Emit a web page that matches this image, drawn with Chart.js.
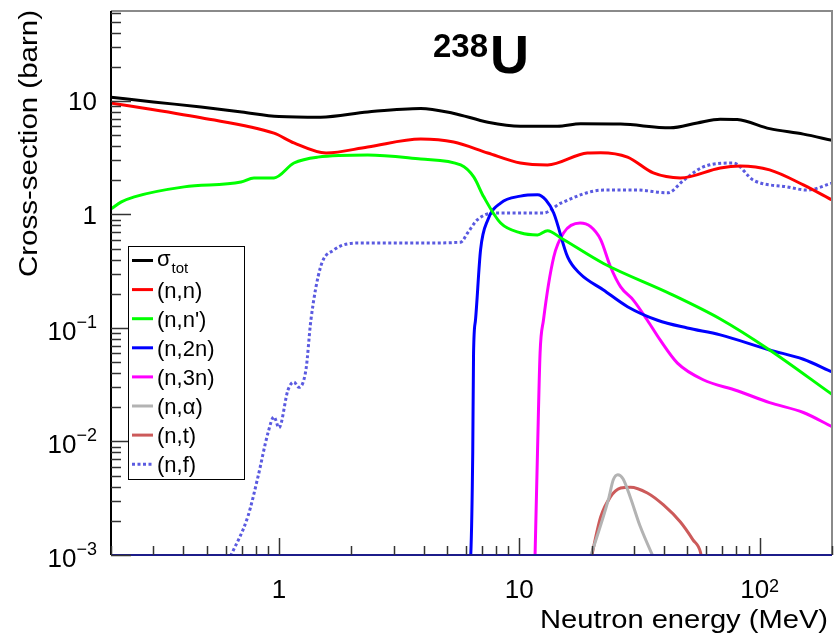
<!DOCTYPE html>
<html>
<head>
<meta charset="utf-8">
<script src="https://cdn.jsdelivr.net/npm/chart.js@4.4.0/dist/chart.umd.min.js"></script>
<style>
  html, body { margin: 0; padding: 0; background: #fff; }
</style>
</head>
<body>
<canvas id="xsChart" width="837" height="642"></canvas>
<script>
// reaction channels, legend order
const reactionLabels = ["σtot", "(n,n)", "(n,n')", "(n,2n)", "(n,3n)", "(n,α)", "(n,t)", "(n,f)"];

// energies (MeV) and cross-sections (barn)
const eTot = [0.2, 0.3, 0.474, 0.7, 1.0, 1.49, 2.34, 3.89, 5.3, 7.4, 10.1, 14.4, 18, 26.4, 42.5, 55, 68.6, 80.7, 110, 152, 200];
const sTot = [10.8, 9.8, 8.85, 8.0, 7.3, 7.2, 8.0, 8.6, 7.8, 6.5, 6.0, 6.0, 6.3, 6.25, 5.8, 6.4, 6.9, 6.85, 5.7, 5.1, 4.5];

const eEl = [0.2, 0.474, 0.953, 1.154, 1.57, 2.34, 3.89, 5.33, 7.39, 10.1, 13.1, 19.2, 21.8, 28.2, 36.1, 46.8, 68.6, 83, 110, 152, 200];
const sEl = [9.6, 7.1, 5.2, 4.27, 3.48, 3.93, 4.62, 4.35, 3.48, 2.84, 2.73, 3.48, 3.5, 3.2, 2.32, 2.1, 2.57, 2.67, 2.47, 1.82, 1.34];

const eInel = [0.2, 0.221, 0.25, 0.403, 0.695, 0.787, 0.953, 1.154, 1.45, 2.34, 3.89, 5.7, 6.46, 7.11, 8.36, 10.1, 11.9, 13.1, 14.9, 22.4, 42.5, 68.6, 110, 200];
const sInel = [1.12, 1.29, 1.43, 1.75, 1.93, 2.1, 2.1, 2.84, 3.2, 3.34, 3.08, 2.73, 2.14, 1.43, 0.84, 0.69, 0.66, 0.72, 0.62, 0.37, 0.2, 0.12, 0.064, 0.026];

const eN2n = [6.2, 6.28, 6.4, 6.45, 6.57, 6.9, 7.4, 8.36, 10.1, 11.9, 12.9, 13.9, 15.9, 17.9, 22.4, 28.2, 37.6, 50, 68.6, 110, 152, 200];
const sN2n = [0.0008, 0.001, 0.0079, 0.06, 0.117, 0.49, 0.9, 1.26, 1.45, 1.49, 1.34, 1.03, 0.42, 0.30, 0.216, 0.154, 0.117, 0.1, 0.087, 0.064, 0.053, 0.041];

const eN3n = [11.6, 11.9, 12.2, 12.6, 13.9, 15.3, 17.9, 19.8, 21.8, 23.9, 26.4, 29.8, 34.1, 38.6, 45.5, 58.2, 80.7, 110, 152, 200];
const sN3n = [0.0008, 0.0079, 0.06, 0.117, 0.42, 0.69, 0.84, 0.78, 0.6, 0.35, 0.23, 0.176, 0.117, 0.078, 0.049, 0.035, 0.028, 0.022, 0.018, 0.0135];

const eAlpha = [19.2, 23.5, 24.6, 25.7, 27.0, 29.0, 31.8, 37.5];
const sAlpha = [0.0008, 0.0031, 0.0046, 0.0051, 0.0047, 0.0032, 0.0018, 0.0008];

const eTrit = [19.6, 21.8, 23.9, 26.4, 29.0, 34.1, 39.8, 46.8, 52.8, 56.7, 58];
const sTrit = [0.0008, 0.00216, 0.00324, 0.00389, 0.00396, 0.00352, 0.00276, 0.00195, 0.00136, 0.00106, 0.0008];

const eFis = [0.6, 0.632, 0.743, 0.818, 0.9, 0.953, 1.0, 1.09, 1.154, 1.21, 1.295, 1.358, 1.49, 1.69, 2.19, 3.89, 5.7, 6.1, 6.7, 7.8, 11.5, 12.6, 14.9, 22.4, 30.9, 41.4, 48.3, 58.2, 77.7, 94.4, 130, 158, 200];
const sFis = [0.0008, 0.001, 0.0022, 0.0049, 0.0119, 0.0165, 0.0132, 0.0284, 0.0334, 0.030, 0.043, 0.118, 0.345, 0.486, 0.56, 0.56, 0.57, 0.69, 0.90, 1.03, 1.03, 1.03, 1.26, 1.64, 1.64, 1.55, 2.0, 2.62, 2.84, 2.0, 1.75, 1.64, 1.89];

const lineColors = ["#000000", "#ff0000", "#00ff00", "#0000ff", "#ff00ff", "#b3b3b3", "#cc5a5a", "#5a5ae0"];

const energies = [eTot, eEl, eInel, eN2n, eN3n, eAlpha, eTrit, eFis];
const sigmas = [sTot, sEl, sInel, sN2n, sN3n, sAlpha, sTrit, sFis];

const FONT = '"Liberation Sans", Arial, Helvetica, sans-serif';

function toPoints(e, s) {
    return e.map((v, i) => ({ x: v, y: s[i] }));
}

const datasets = reactionLabels.map((lab, i) => ({
    label: lab,
    data: toPoints(energies[i], sigmas[i]),
    borderColor: lineColors[i],
    borderWidth: 3,
    borderDash: i === 7 ? [3, 2.5] : [],
    pointRadius: 0,
    fill: false,
    cubicInterpolationMode: "monotone",
}));

// draws "10" with a superscript exponent, or a plain number
function drawPow(ctx, base, exp, x, y, align, baseSize, expSize, raise) {
    ctx.font = baseSize + "px " + FONT;
    const wb = ctx.measureText(base).width;
    ctx.font = expSize + "px " + FONT;
    const we = exp ? ctx.measureText(exp).width : 0;
    const total = wb + we;
    let x0 = x;
    if (align === "right") x0 = x - total;
    if (align === "center") x0 = x - total / 2;
    ctx.textAlign = "left";
    ctx.textBaseline = "alphabetic";
    ctx.font = baseSize + "px " + FONT;
    ctx.fillText(base, x0, y);
    if (exp) {
        ctx.font = expSize + "px " + FONT;
        ctx.fillText(exp, x0 + wb, y - raise);
    }
}

const rootStyle = {
    id: "rootStyle",
    afterDraw(chart) {
        const { ctx, chartArea: a, scales: { x, y } } = chart;
        ctx.save();
        ctx.fillStyle = "#000";

        // frame
        ctx.lineWidth = 2;
        ctx.strokeStyle = "#8a8a8a";
        ctx.beginPath();
        ctx.moveTo(a.left, a.top);
        ctx.lineTo(a.right, a.top);
        ctx.lineTo(a.right, a.bottom);
        ctx.stroke();
        ctx.strokeStyle = "#000";
        ctx.beginPath();
        ctx.moveTo(a.left, a.top);
        ctx.lineTo(a.left, a.bottom);
        ctx.stroke();
        ctx.strokeStyle = "#1c1c8a";
        ctx.beginPath();
        ctx.moveTo(a.left, a.bottom);
        ctx.lineTo(a.right, a.bottom);
        ctx.stroke();

        // y ticks
        ctx.strokeStyle = "#333";
        ctx.lineWidth = 1.5;
        for (let d = -3; d <= 1; d++) {
            for (let m = 1; m <= 9; m++) {
                const v = m * Math.pow(10, d);
                if (v > y.max) break;
                const py = Math.round(y.getPixelForValue(v)) + 0.5;
                const len = m === 1 ? 20 : 10;
                ctx.beginPath();
                ctx.moveTo(a.left, py);
                ctx.lineTo(a.left + len, py);
                ctx.stroke();
            }
        }
        // x ticks
        for (let d = -1; d <= 2; d++) {
            for (let m = 1; m <= 9; m++) {
                const v = m * Math.pow(10, d);
                if (v < x.min * 0.999 || v > x.max * 1.001) continue;
                const px = Math.round(x.getPixelForValue(v)) + 0.5;
                const len = m === 1 ? 17 : 9;
                ctx.beginPath();
                ctx.moveTo(px, a.bottom);
                ctx.lineTo(px, a.bottom - len);
                ctx.stroke();
            }
        }

        // y tick labels
        const yLabels = [[0.001, "10", "\u22123"], [0.01, "10", "\u22122"], [0.1, "10", "\u22121"], [1, "1", ""], [10, "10", ""]];
        yLabels.forEach(([v, b, e]) => {
            const py = y.getPixelForValue(v);
            if (e) drawPow(ctx, b, e, 97, py + 12, "right", 26, 18, 12);
            else drawPow(ctx, b, "", 97, py + 9.5, "right", 26, 18, 0);
        });
        // x tick labels
        const xLabels = [[1, "1", ""], [10, "10", ""], [100, "10", "2"]];
        xLabels.forEach(([v, b, e]) => {
            const px = x.getPixelForValue(v);
            drawPow(ctx, b, e, px, 598, "center", 26, 18, 6);
        });

        // axis titles (ROOT puts them at the far end of the axis)
        ctx.font = "26px " + FONT;
        ctx.textBaseline = "alphabetic";
        let t = "Neutron energy (MeV)";
        let w = ctx.measureText(t).width;
        ctx.save();
        ctx.translate(828, 628);
        ctx.scale(288 / w, 1);
        ctx.textAlign = "right";
        ctx.fillText(t, 0, 0);
        ctx.restore();

        t = "Cross-section (barn)";
        w = ctx.measureText(t).width;
        ctx.save();
        ctx.translate(37, 10);
        ctx.rotate(-Math.PI / 2);
        ctx.scale(267 / w, 1);
        ctx.textAlign = "right";
        ctx.fillText(t, 0, 0);
        ctx.restore();

        // nucleus label
        ctx.textAlign = "left";
        ctx.font = "bold 33px " + FONT;
        ctx.fillText("238", 433, 57);
        ctx.font = "bold 54px " + FONT;
        ctx.fillText("U", 490, 73);

        // legend
        const lx = 128, ly = 246, lw = 116, lh = 233;
        ctx.fillStyle = "#fff";
        ctx.fillRect(lx, ly, lw, lh);
        ctx.strokeStyle = "#000";
        ctx.lineWidth = 1;
        ctx.strokeRect(lx + 0.5, ly + 0.5, lw, lh);
        chart.data.datasets.forEach((ds, i) => {
            const cy = 260.5 + i * 29.1;
            ctx.strokeStyle = ds.borderColor;
            ctx.lineWidth = 3;
            ctx.setLineDash(ds.borderDash);
            ctx.beginPath();
            ctx.moveTo(132, cy);
            ctx.lineTo(153, cy);
            ctx.stroke();
            ctx.setLineDash([]);
            ctx.fillStyle = "#000";
            ctx.textAlign = "left";
            ctx.textBaseline = "alphabetic";
            if (i === 0) {
                ctx.font = "22px " + FONT;
                ctx.fillText("σ", 157, cy + 5);
                const ws = ctx.measureText("σ").width;
                ctx.font = "15px " + FONT;
                ctx.fillText("tot", 157 + ws + 1, cy + 12);
            } else {
                ctx.font = "22px " + FONT;
                ctx.fillText(ds.label, 157, cy + 8);
            }
        });
        ctx.restore();
    }
};

const ctxXs = document.getElementById("xsChart").getContext("2d");
const xsChart = new Chart(ctxXs, {
    type: "line",
    data: { datasets: datasets },
    options: {
        responsive: false,
        animation: false,
        parsing: true,
        layout: {
            padding: { left: 111, top: 11, right: 5, bottom: 87 }
        },
        scales: {
            x: { type: "logarithmic", min: 0.2, max: 200, display: false },
            y: { type: "logarithmic", min: 0.001, max: 62, display: false }
        },
        plugins: {
            legend: { display: false },
            tooltip: { enabled: false }
        }
    },
    plugins: [rootStyle]
});
</script>
</body>
</html>
